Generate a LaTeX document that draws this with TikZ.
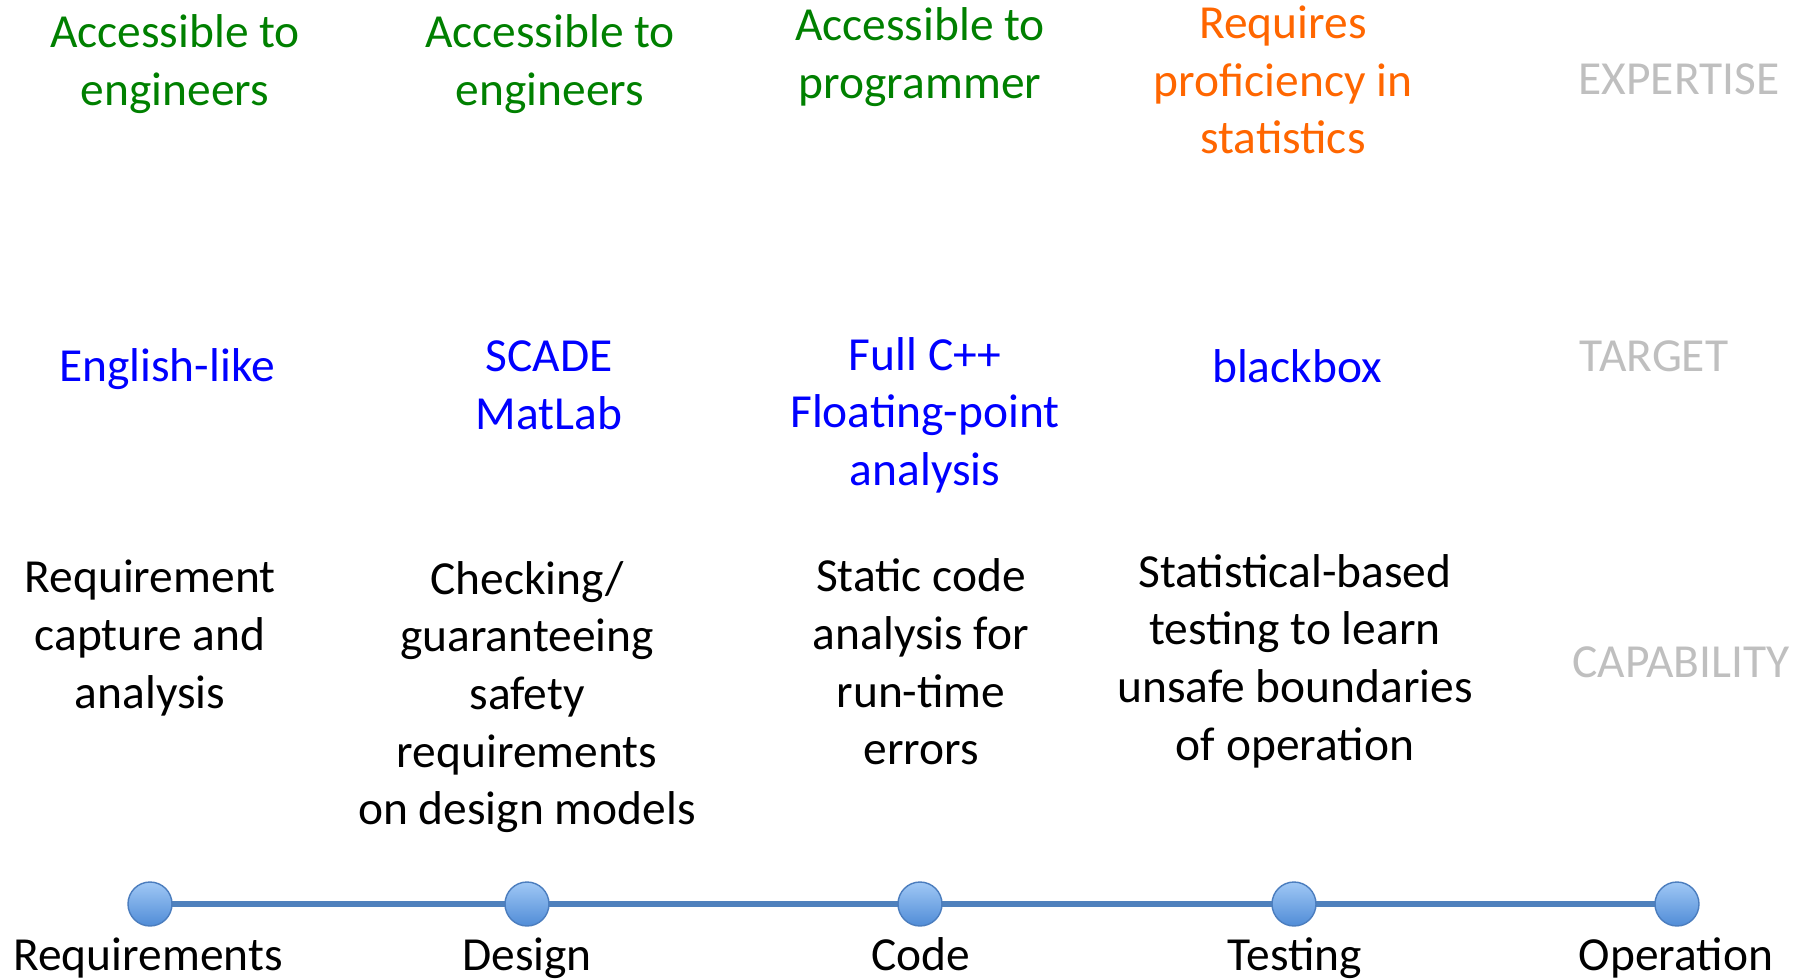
\documentclass[tikz,border=0pt]{standalone}
\usepackage{fontspec}
\setmainfont{Carlito}
\usepackage{tikz}
\usetikzlibrary{positioning}
\definecolor{expgreen}{RGB}{0,128,0}
\definecolor{exporange}{RGB}{255,102,0}
\definecolor{tgtblue}{RGB}{0,0,255}
\definecolor{rowgray}{RGB}{191,191,191}
\definecolor{lineblue}{RGB}{79,129,189}
\definecolor{dotlight}{RGB}{160,200,245}
\definecolor{dotdark}{RGB}{80,140,215}
\definecolor{dotrim}{RGB}{75,125,190}
\tikzset{
  x=0.1mm, y=-0.1mm,
  every node/.style={font=\fontsize{13.5}{16.4}\selectfont, align=center, inner sep=0pt},
  expertise/.style={text=expgreen},
  hard/.style={text=exporange},
  target/.style={text=tgtblue},
  rowname/.style={text=rowgray},
  phase/.style={circle, minimum size=4.4mm, draw=dotrim, line width=0.4pt,
    top color=dotlight, bottom color=dotdark},
  phaselabel/.style={anchor=base},
  timeline/.style={draw=lineblue, line width=0.55mm},
}

\begin{document}
\begin{tikzpicture}
  \useasboundingbox (0,0) rectangle (1810,980);

  % phases
  \coordinate (req) at (150,904);
  \coordinate (des) at (527,904);
  \coordinate (code) at (920,904);
  \coordinate (test) at (1294,904);
  \coordinate (op) at (1677,904);
  \draw[timeline] (req) -- (op);
  \foreach \p in {req, des, code, test, op}
    \node[phase] (\p c) at (\p) {};

  \node[phaselabel] (reqlab) at (148,970) {Requirements};
  \node[phaselabel] (deslab) at (527,970) {Design};
  \node[phaselabel] (codelab) at (921,970) {Code};
  \node[phaselabel] (testlab) at (1295,970) {Testing};
  \node[phaselabel] (oplab) at (1676,970) {Operation};

  % expertise
  \node[expertise] (exp1) at (175,64) {Accessible to\\engineers};
  \node[expertise] (exp2) at (550,64) {Accessible to\\engineers};
  \node[expertise] (exp3) at (920,57) {Accessible to\\programmer};
  \node[hard] (exp4) at (1283,80) {Requires\\proficiency in\\statistics};
  \node[rowname] (expname) at (1679,79) {EXPERTISE};

  % target
  \node[target] (tgt1) at (167,369) {English-like};
  \node[target] (tgt2) at (549,385) {SCADE\\MatLab};
  \node[target] (tgt3) at (925,415) {Full C++\\Floating-point\\analysis};
  \node[target] (tgt4) at (1297,366) {blackbox};
  \node[rowname] (tgtname) at (1654,356) {TARGET};

  % capability
  \node (cap1) at (150,638) {Requirement\\capture and\\analysis};
  \node (cap2) at (527,697) {Checking/\\guaranteeing\\safety\\requirements\\on design models};
  \node (cap3) at (921,662) {Static code\\analysis for\\run-time\\errors};
  \node (cap4) at (1295,661) {Statistical-based\\testing to learn\\unsafe boundaries\\of operation};
  \node[rowname] (capname) at (1681,662) {CAPABILITY};
\end{tikzpicture}
\end{document}
